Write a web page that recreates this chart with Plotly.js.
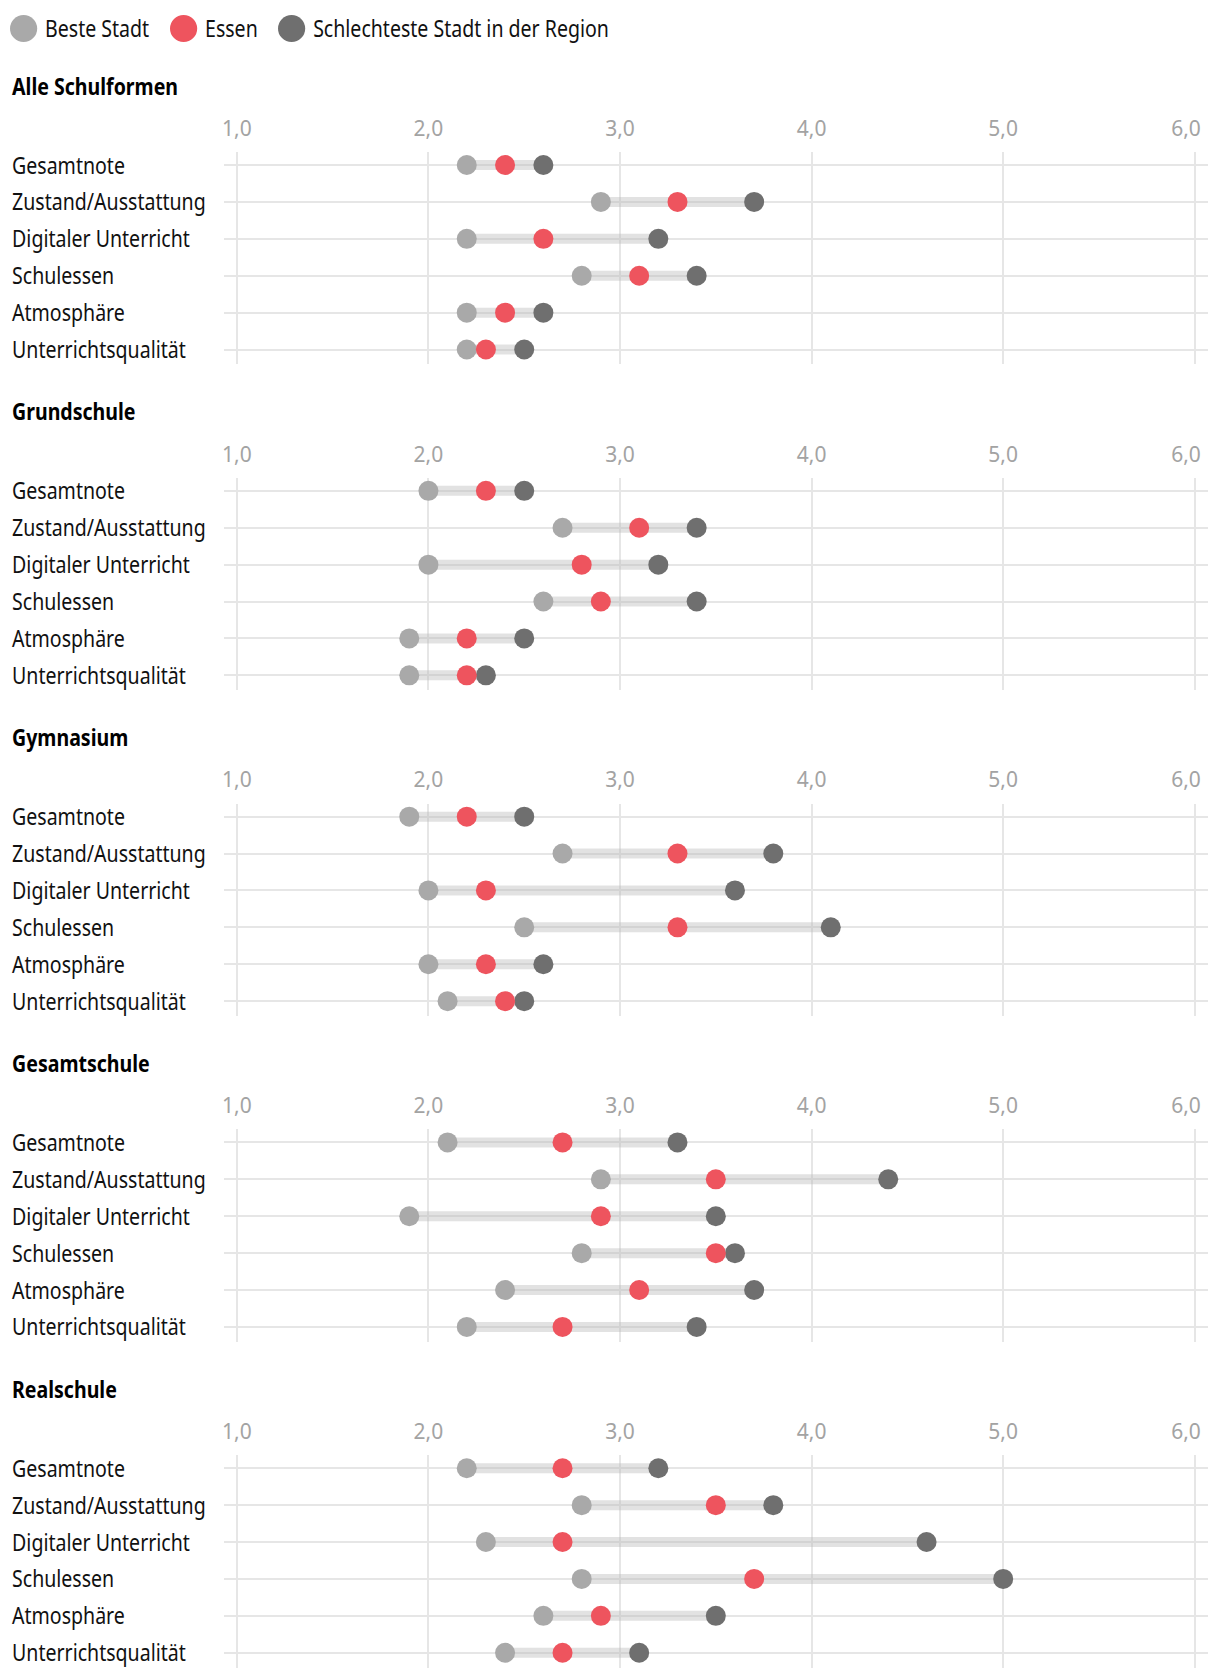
<!DOCTYPE html>
<html><head><meta charset="utf-8">
<script src="https://cdn.plot.ly/plotly-3.0.1.min.js"></script>
<style>
html,body{margin:0;padding:0;background:#fff}
.main-svg .annotation-text{transform-box:fill-box;transform-origin:0% 50%;transform:scaleX(0.815);}
</style>
</head><body><div id="chart" style="width:1220px;height:1680px"></div>
<script>
const categories = ["Gesamtnote","Zustand/Ausstattung","Digitaler Unterricht","Schulessen","Atmosphäre","Unterrichtsqualität"];
const sections = ["Alle Schulformen","Grundschule","Gymnasium","Gesamtschule","Realschule"];
const seriesNames = ["Beste Stadt","Essen","Schlechteste Stadt in der Region"];
const tickValues = [1,2,3,4,5,6];

const bestAlle   = [2.2,2.9,2.2,2.8,2.2,2.2];
const essenAlle  = [2.4,3.3,2.6,3.1,2.4,2.3];
const worstAlle  = [2.6,3.7,3.2,3.4,2.6,2.5];

const bestGrund  = [2.0,2.7,2.0,2.6,1.9,1.9];
const essenGrund = [2.3,3.1,2.8,2.9,2.2,2.2];
const worstGrund = [2.5,3.4,3.2,3.4,2.5,2.3];

const bestGym    = [1.9,2.7,2.0,2.5,2.0,2.1];
const essenGym   = [2.2,3.3,2.3,3.3,2.3,2.4];
const worstGym   = [2.5,3.8,3.6,4.1,2.6,2.5];

const bestGesamt  = [2.1,2.9,1.9,2.8,2.4,2.2];
const essenGesamt = [2.7,3.5,2.9,3.5,3.1,2.7];
const worstGesamt = [3.3,4.4,3.5,3.6,3.7,3.4];

const bestReal   = [2.2,2.8,2.3,2.8,2.6,2.4];
const essenReal  = [2.7,3.5,2.7,3.7,2.9,2.7];
const worstReal  = [3.2,3.8,4.6,5.0,3.5,3.1];

const panels = [
  [bestAlle, essenAlle, worstAlle],
  [bestGrund, essenGrund, worstGrund],
  [bestGym, essenGym, worstGym],
  [bestGesamt, essenGesamt, worstGesamt],
  [bestReal, essenReal, worstReal]
];

// styling / geometry
const W = 1220, H = 1680;
const FONT = "Noto Sans, DejaVu Sans, sans-serif";
const colBest = "#a9a9a9", colEssen = "#ee545e", colWorst = "#6f6f6f";
const gridCol = "#e6e6e6";
const step = 325.8, top0 = 152, bot0 = 364.3, title0 = 85;
const xDom = [224/W, 1208/W];

// tick labels in German number format; the last one is nudged inside the chart edge
const tickText = tickValues.map((v, i) => {
  const s = v.toFixed(1).replace(".", ",");
  return i === tickValues.length - 1 ? s + "\u2007\u00A0" : s;
});

const traces = [];
const layout = {
  width: W, height: H,
  margin: {l:0, r:0, t:0, b:0},
  paper_bgcolor: "#fff", plot_bgcolor: "rgba(0,0,0,0)",
  showlegend: false,
  separators: ",.",
  font: {family: FONT, color: "#111"},
  annotations: [], shapes: []
};

panels.forEach((p, k) => {
  const sfx = k === 0 ? "" : String(k+1);
  const xa = "x" + sfx, ya = "y" + sfx;
  const [best, essen, worst] = p;
  const bx = [], by = [];
  categories.forEach((c, i) => { bx.push(best[i], worst[i], null); by.push(c, c, null); });
  traces.push({type:"scatter", mode:"lines", x:bx, y:by, xaxis:xa, yaxis:ya,
    line:{color:"rgba(185,185,185,0.42)", width:10}, hoverinfo:"skip"});
  [[best, colBest], [worst, colWorst], [essen, colEssen]].forEach(([vals, col]) => {
    traces.push({type:"scatter", mode:"markers", x:vals, y:categories, xaxis:xa, yaxis:ya,
      marker:{color:col, size:20, line:{width:0}}, hoverinfo:"skip"});
  });
  const top = top0 + step*k, bot = bot0 + step*k;
  layout["xaxis"+sfx] = {
    domain: xDom, anchor: ya, side: "top", range: [0.933, 6.069],
    tickmode: "array", tickvals: tickValues, ticktext: tickText, ticks: "", showline: false,
    ticklabeloverflow: "allow",
    showgrid: true, gridcolor: gridCol, gridwidth: 2, zeroline: false,
    tickfont: {family: FONT, size: 21, color: "#a3a3a3"}, ticklabelstandoff: 11,
    fixedrange: true
  };
  layout["yaxis"+sfx] = {
    domain: [1 - bot/H, 1 - top/H], anchor: xa, type: "category",
    categoryarray: categories, range: [5.4, -0.353],
    showticklabels: false, ticks: "", showline: false,
    showgrid: true, gridcolor: gridCol, gridwidth: 2, zeroline: false, fixedrange: true
  };
  layout.annotations.push({xref:"paper", yref:"paper", x:10/W, y:1-(title0+step*k)/H,
    xanchor:"left", yanchor:"middle", showarrow:false,
    text:"<b>"+sections[k]+"</b>", font:{family:FONT, size:24, color:"#000"}});
  categories.forEach(c => {
    layout.annotations.push({xref:"paper", yref:ya, x:10/W, y:c, xanchor:"left", yanchor:"middle",
      yshift: 1, showarrow:false, text:c, font:{family:FONT, size:24, color:"#111"}});
  });
});

// legend
const legendItems = [
  {name: seriesNames[0], col: colBest, cx0: 10, tx: 43},
  {name: seriesNames[1], col: colEssen, cx0: 170, tx: 203},
  {name: seriesNames[2], col: colWorst, cx0: 278, tx: 311}
];
const legY = 28.5, legR = 13.6;
legendItems.forEach(it => {
  layout.shapes.push({type:"circle", xref:"paper", yref:"paper",
    x0: it.cx0/W, x1: (it.cx0+2*legR)/W, y0: 1-(legY+legR)/H, y1: 1-(legY-legR)/H,
    fillcolor: it.col, line:{width:0}});
  layout.annotations.push({xref:"paper", yref:"paper", x: it.tx/W, y: 1-(legY-1)/H,
    xanchor:"left", yanchor:"middle", showarrow:false, text: it.name,
    font:{family:FONT, size:24, color:"#111"}});
});

Plotly.newPlot("chart", traces, layout, {staticPlot:true, displayModeBar:false});
</script></body></html>
